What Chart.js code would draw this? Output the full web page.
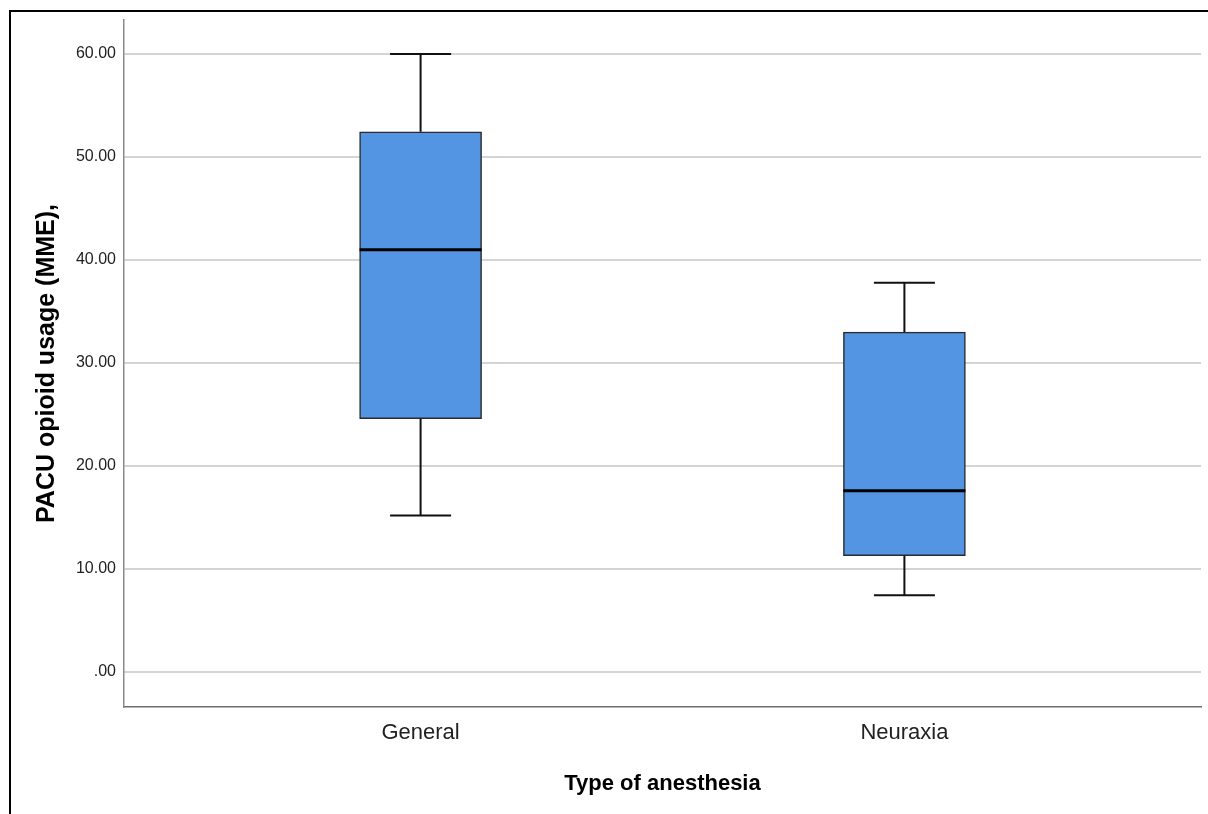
<!DOCTYPE html>
<html>
<head>
<meta charset="utf-8">
<script src="https://cdn.jsdelivr.net/npm/chart.js@4/dist/chart.umd.min.js"></script>
<style>
  html, body { margin: 0; padding: 0; background: #fff; }
  #wrap { position: relative; width: 1208px; height: 814px; overflow: hidden; }
  #frame { position: absolute; left: 9px; top: 10px; width: 1240px; height: 840px; border: 2px solid #000; box-sizing: border-box; }
  canvas { position: absolute; left: 0; top: 0; }
</style>
</head>
<body>
<div id="wrap">
  <div id="frame"></div>
  <canvas id="c" width="1208" height="814"></canvas>
</div>
<script>
// ---- data ----
const categories = ['General', 'Neuraxia'];
const whiskerLow  = [15.2, 7.45];
const quartile1   = [24.6, 11.3];
const medians     = [41.0, 17.6];
const quartile3   = [52.45, 33.0];
const whiskerHigh = [60.0, 37.8];
const yTicks = [0, 10, 20, 30, 40, 50, 60];
const yTitle = 'PACU opioid usage (MME),';
const xTitle = 'Type of anesthesia';

const boxData = categories.map((c, i) => ({ x: i + 1, y: [quartile1[i], quartile3[i]] }));

const boxPlugin = {
  id: 'boxWhiskers',
  afterDatasetsDraw(chart) {
    const { ctx, scales: { x, y } } = chart;
    ctx.save();
    categories.forEach((c, i) => {
      const cx = x.getPixelForValue(i + 1);
      const capHalf = 30.5;
      const boxHalf = 61;
      const pLo = y.getPixelForValue(whiskerLow[i]);
      const pQ1 = y.getPixelForValue(quartile1[i]);
      const pQ3 = y.getPixelForValue(quartile3[i]);
      const pHi = y.getPixelForValue(whiskerHigh[i]);
      const pMed = y.getPixelForValue(medians[i]);
      ctx.strokeStyle = '#111';
      ctx.lineWidth = 2;
      ctx.beginPath();
      ctx.moveTo(cx, pQ3); ctx.lineTo(cx, pHi);
      ctx.moveTo(cx - capHalf, pHi); ctx.lineTo(cx + capHalf, pHi);
      ctx.moveTo(cx, pQ1); ctx.lineTo(cx, pLo);
      ctx.moveTo(cx - capHalf, pLo); ctx.lineTo(cx + capHalf, pLo);
      ctx.stroke();
      ctx.strokeStyle = '#000';
      ctx.lineWidth = 3;
      ctx.beginPath();
      ctx.moveTo(cx - boxHalf, pMed); ctx.lineTo(cx + boxHalf, pMed);
      ctx.stroke();
    });
    ctx.restore();
  }
};

new Chart(document.getElementById('c'), {
  type: 'bar',
  data: {
    datasets: [{
      data: boxData,
      backgroundColor: '#5394e3',
      borderColor: '#2b2b2b',
      borderWidth: 1.5,
      borderSkipped: false,
      barThickness: 122
    }]
  },
  options: {
    responsive: false,
    animation: false,
    devicePixelRatio: 1,
    layout: { padding: { top: 20, right: 7, left: 0, bottom: 0 } },
    plugins: { legend: { display: false }, tooltip: { enabled: false } },
    scales: {
      x: {
        type: 'linear',
        offset: false,
        min: 0.387,
        max: 2.613,
        afterBuildTicks(scale) { scale.ticks = categories.map((c, i) => ({ value: i + 1 })); },
        afterFit(scale) { scale.height = 107; },
        grid: { display: false, drawTicks: false, offset: false },
        border: { display: true, color: '#6e6e6e', width: 1.5 },
        ticks: {
          autoSkip: false,
          maxRotation: 0,
          padding: 13,
          color: '#222',
          font: { family: '"Liberation Sans", Arial, sans-serif', size: 22 },
          callback: (v) => categories[Math.round(v) - 1] || ''
        },
        title: {
          display: true,
          text: xTitle,
          color: '#000',
          font: { family: '"Liberation Sans", Arial, sans-serif', size: 22, weight: 'bold' },
          padding: { top: 6, bottom: 17 }
        }
      },
      y: {
        type: 'linear',
        min: -3.4,
        max: 63.3,
        afterBuildTicks(scale) { scale.ticks = yTicks.map(v => ({ value: v })); },
        afterFit(scale) { scale.width = 124; },
        grid: { color: '#d4d4d4', lineWidth: 2, drawTicks: false },
        border: { display: true, color: '#8a8a8a', width: 1.5 },
        ticks: {
          padding: 8,
          color: '#222',
          font: { family: '"Liberation Sans", Arial, sans-serif', size: 16 },
          callback: (v) => v === 0 ? '.00' : Number(v).toFixed(2)
        },
        title: {
          display: true,
          text: yTitle,
          color: '#000',
          font: { family: '"Liberation Sans", Arial, sans-serif', size: 25, weight: 'bold' },
          padding: { top: 32, bottom: 0 }
        }
      }
    }
  },
  plugins: [boxPlugin]
});
</script>
</body>
</html>
